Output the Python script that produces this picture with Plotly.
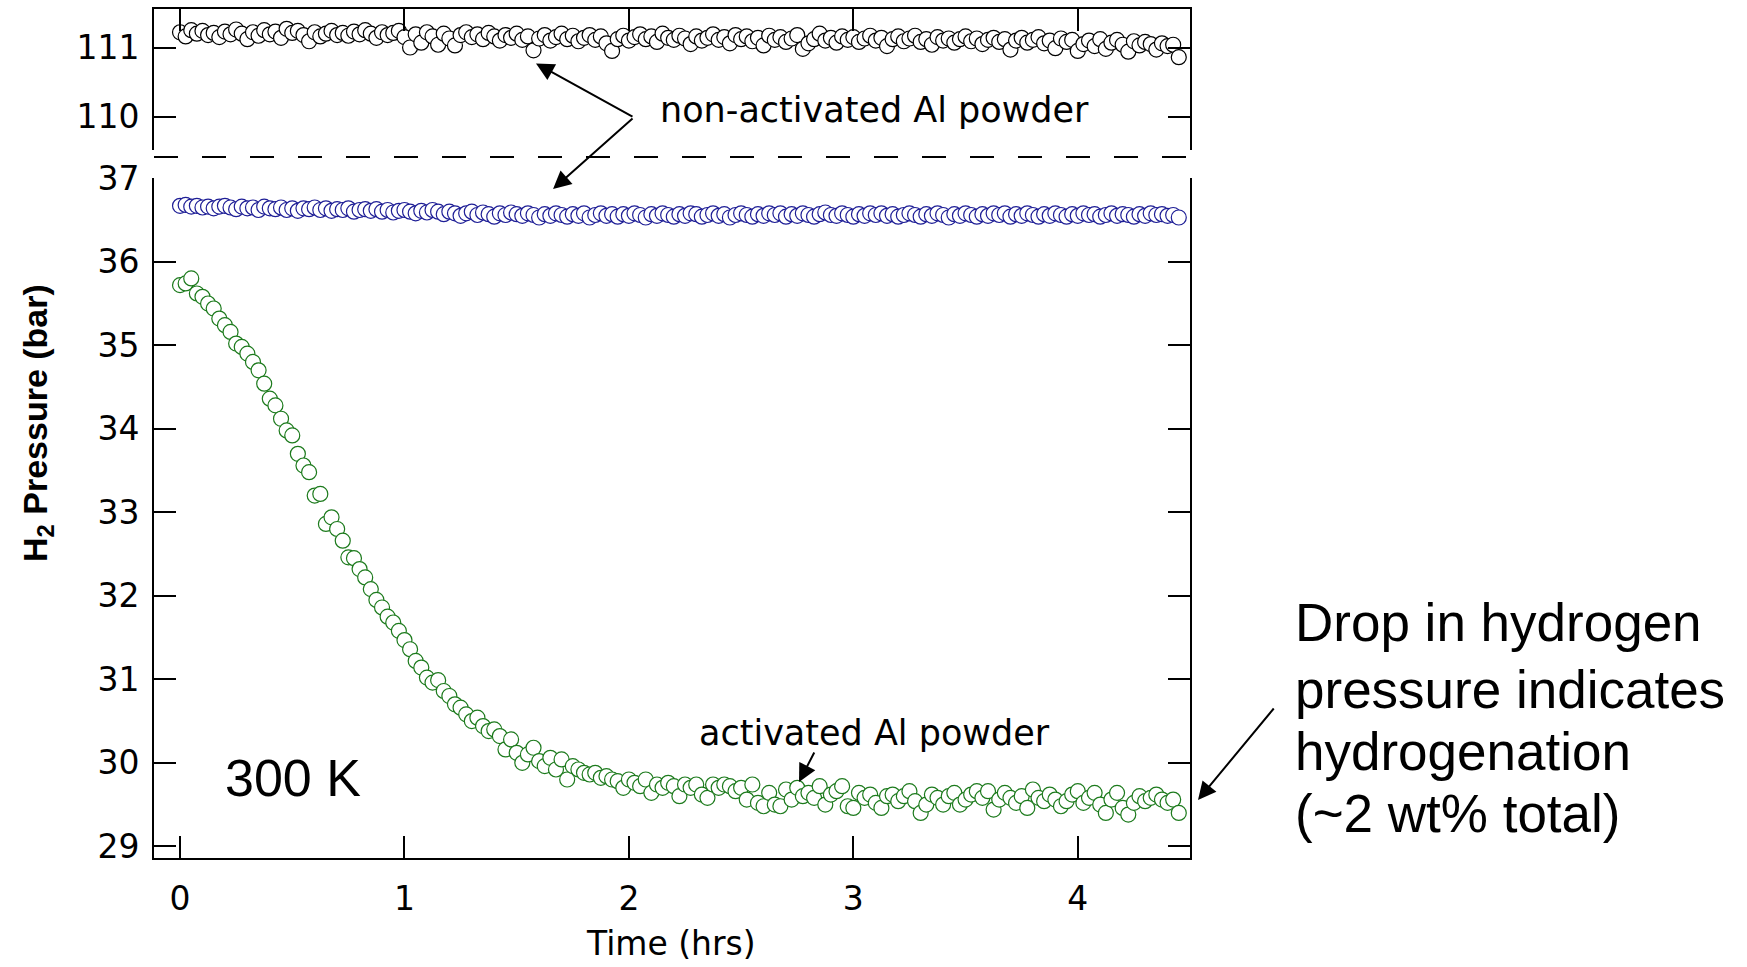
import plotly.graph_objects as go

# ---------------- data ----------------
sample_step_hr = 0.025  # sampling interval of the pressure logger (hours)

activated_green = [
    35.72, 35.74, 35.80, 35.62, 35.58, 35.50, 35.44, 35.32, 35.24, 35.16,
    35.02, 34.98, 34.90, 34.80, 34.70, 34.54, 34.36, 34.28, 34.12, 33.98,
    33.92, 33.70, 33.56, 33.48, 33.20, 33.22, 32.86, 32.94, 32.80, 32.66,
    32.46, 32.45, 32.32, 32.22, 32.08, 31.95, 31.86, 31.75, 31.68, 31.58,
    31.47, 31.36, 31.22, 31.14, 31.02, 30.96, 30.99, 30.86, 30.80, 30.70,
    30.66, 30.58, 30.50, 30.54, 30.44, 30.38, 30.40, 30.32, 30.16, 30.28,
    30.12, 30.00, 30.10, 30.18, 30.02, 29.96, 30.06, 29.92, 30.04, 29.80,
    29.96, 29.92, 29.88, 29.86, 29.88, 29.82, 29.84, 29.80, 29.78, 29.70,
    29.80, 29.76, 29.72, 29.80, 29.64, 29.74, 29.70, 29.76, 29.72, 29.60,
    29.74, 29.70, 29.74, 29.62, 29.58, 29.74, 29.70, 29.74, 29.72, 29.66,
    29.70, 29.56, 29.74, 29.52, 29.48, 29.64, 29.50, 29.48, 29.68, 29.56,
    29.70, 29.60, 29.64, 29.58, 29.72, 29.50, 29.62, 29.66, 29.72, 29.48,
    29.46, 29.64, 29.58, 29.62, 29.52, 29.46, 29.60, 29.62, 29.54, 29.60,
    29.66, 29.54, 29.40, 29.50, 29.62, 29.58, 29.50, 29.60, 29.64, 29.50,
    29.56, 29.62, 29.66, 29.58, 29.66, 29.44, 29.56, 29.64, 29.58, 29.52,
    29.60, 29.46, 29.68, 29.58, 29.54, 29.62, 29.56, 29.48, 29.54, 29.62,
    29.66, 29.52, 29.58, 29.64, 29.50, 29.40, 29.56, 29.64, 29.46, 29.38,
    29.52, 29.60, 29.54, 29.58, 29.62, 29.56, 29.52, 29.56, 29.40,
]

nonactivated_blue = [
    36.67, 36.68, 36.66, 36.67, 36.65, 36.66, 36.64, 36.66, 36.67, 36.65,
    36.63, 36.66, 36.64, 36.65, 36.62, 36.66, 36.64, 36.63, 36.65, 36.62,
    36.64, 36.61, 36.64, 36.63, 36.65, 36.62, 36.64, 36.61, 36.63, 36.62,
    36.64, 36.60, 36.62, 36.63, 36.61, 36.63, 36.60, 36.62, 36.59, 36.61,
    36.62, 36.60, 36.58, 36.61, 36.59, 36.62, 36.60, 36.57, 36.60, 36.58,
    36.55, 36.58, 36.60, 36.56, 36.59, 36.57, 36.54, 36.58, 36.56, 36.59,
    36.57, 36.55, 36.58, 36.56, 36.53, 36.57, 36.55, 36.58, 36.56, 36.54,
    36.57, 36.55, 36.58, 36.53, 36.56, 36.58, 36.55, 36.57, 36.54, 36.57,
    36.55, 36.58, 36.56, 36.53, 36.57, 36.55, 36.58, 36.56, 36.54, 36.57,
    36.55, 36.58, 36.57, 36.54, 36.56, 36.58, 36.55, 36.57, 36.53, 36.56,
    36.58, 36.56, 36.54, 36.57, 36.55, 36.58, 36.56, 36.58, 36.54, 36.57,
    36.55, 36.58, 36.56, 36.54, 36.57, 36.59, 36.56, 36.55, 36.58, 36.56,
    36.54, 36.57, 36.55, 36.58, 36.56, 36.58, 36.55, 36.57, 36.54, 36.56,
    36.58, 36.56, 36.54, 36.57, 36.55, 36.58, 36.56, 36.53, 36.57, 36.55,
    36.58, 36.56, 36.54, 36.57, 36.55, 36.58, 36.56, 36.58, 36.54, 36.57,
    36.55, 36.58, 36.56, 36.54, 36.57, 36.55, 36.58, 36.56, 36.54, 36.57,
    36.55, 36.58, 36.56, 36.57, 36.54, 36.56, 36.58, 36.55, 36.57, 36.56,
    36.54, 36.57, 36.55, 36.58, 36.56, 36.57, 36.55, 36.56, 36.53,
]

nonactivated_black = [
    111.22, 111.16, 111.25, 111.20, 111.24, 111.18, 111.21, 111.15, 111.23, 111.19,
    111.26, 111.20, 111.12, 111.22, 111.17, 111.25, 111.19, 111.23, 111.14, 111.27,
    111.21, 111.24, 111.18, 111.09, 111.22, 111.16, 111.20, 111.24, 111.18, 111.21,
    111.17, 111.23, 111.19, 111.25, 111.20, 111.14, 111.22, 111.18, 111.21, 111.24,
    111.15, 111.00, 111.19, 111.07, 111.22, 111.16, 111.04, 111.20, 111.13, 111.03,
    111.18, 111.22, 111.15, 111.19, 111.12, 111.21, 111.16, 111.10, 111.18, 111.14,
    111.20, 111.11, 111.16, 110.96, 111.13, 111.18, 111.10, 111.15, 111.20, 111.12,
    111.17, 111.09, 111.14, 111.18, 111.11, 111.16, 111.06, 110.95, 111.12, 111.17,
    111.10, 111.15, 111.19, 111.12, 111.16, 111.08, 111.20, 111.14, 111.11, 111.17,
    111.13, 111.05, 111.16, 111.10, 111.14, 111.19, 111.11, 111.15, 111.06, 111.18,
    111.12, 111.16, 111.09, 111.14, 111.03, 111.17, 111.11, 111.15, 111.08, 111.13,
    111.18, 110.98, 111.06, 111.12, 111.20, 111.10, 111.14, 111.07, 111.16, 111.11,
    111.15, 111.08, 111.13, 111.17, 111.10, 111.14, 111.02, 111.12, 111.16, 111.09,
    111.13, 111.17, 111.08, 111.12, 111.04, 111.15, 111.10, 111.13, 111.07, 111.12,
    111.16, 111.09, 111.13, 111.05, 111.11, 111.14, 111.08, 111.12, 110.97, 111.10,
    111.14, 111.07, 111.11, 111.15, 111.06, 111.10, 110.99, 111.13, 111.08, 111.11,
    110.95, 111.05, 111.10, 111.02, 111.12, 110.98, 111.07, 111.11, 111.04, 110.94,
    111.09, 111.03, 111.08, 111.05, 110.97, 111.06, 111.02, 111.04, 110.86,
]

time_hr = [round(i * sample_step_hr, 3) for i in range(len(activated_green))]

x_ticks = [0, 1, 2, 3, 4]
lower_y_ticks = [29, 30, 31, 32, 33, 34, 35, 36, 37]
upper_y_ticks = [110, 111]

# ---------------- styling ----------------
W, H = 1747, 967
L, R, T, B = 154, 557, 9, 109
plot_w = W - L - R
plot_h = H - T - B

def py(ypix):
    return (H - B - ypix) / plot_h

def px(xpix):
    return (xpix - L) / plot_w

GREEN = "#1c7a1c"
BLUE = "#1e1e96"
BLACK = "#000000"
CHART_FONT = "DejaVu Sans"
SLIDE_FONT = "Liberation Sans, Arial, sans-serif"

def marker(color):
    return dict(symbol="circle", size=15, color="white",
                line=dict(color=color, width=1.2))

fig = go.Figure()
fig.add_trace(go.Scatter(x=time_hr, y=nonactivated_black, mode="markers",
                         marker=marker(BLACK), xaxis="x2", yaxis="y2",
                         showlegend=False, cliponaxis=False))
fig.add_trace(go.Scatter(x=time_hr, y=nonactivated_blue, mode="markers",
                         marker=marker(BLUE), xaxis="x", yaxis="y",
                         showlegend=False, cliponaxis=False))
fig.add_trace(go.Scatter(x=time_hr, y=activated_green, mode="markers",
                         marker=marker(GREEN), xaxis="x", yaxis="y",
                         showlegend=False, cliponaxis=False))

axis_common = dict(showline=True, linecolor=BLACK, linewidth=2,
                   ticks="inside", ticklen=22, tickwidth=2, tickcolor=BLACK,
                   showgrid=False, zeroline=False, automargin=False,
                   tickfont=dict(family=CHART_FONT, size=33, color=BLACK))

x_range = [-0.116, 4.50]
fig.update_layout(
    width=W, height=H,
    margin=dict(l=L, r=R, t=T, b=B, autoexpand=False),
    paper_bgcolor="white", plot_bgcolor="white",
    xaxis=dict(domain=[0, 1], anchor="y", range=x_range, tickvals=x_ticks,
               mirror=False, ticklabelstandoff=10, **axis_common),
    xaxis2=dict(domain=[0, 1], anchor="y2", range=x_range, tickvals=x_ticks,
                side="top", mirror=False, showticklabels=False, matches="x",
                **axis_common),
    yaxis=dict(domain=[0, py(178)], anchor="x", range=[28.86, 37.003],
               tickvals=lower_y_ticks, mirror="ticks", ticklabelstandoff=6,
               **axis_common),
    yaxis2=dict(domain=[py(150), 1], anchor="x2", range=[109.52, 111.556],
                tickvals=upper_y_ticks, mirror="ticks", ticklabelstandoff=6,
                **axis_common),
)

# axis break dashed line
fig.add_shape(type="line", xref="paper", yref="paper", x0=0, x1=1,
              y0=py(157), y1=py(157),
              line=dict(color=BLACK, width=2, dash="24px,24px"))

ann = []
# axis titles
ann.append(dict(text="<b>H<sub>2</sub> Pressure (bar)</b>", xref="paper", yref="paper",
                x=px(37), y=py(423), textangle=-90, showarrow=False,
                xanchor="center", yanchor="middle",
                font=dict(family="Liberation Sans", size=34, color=BLACK)))
ann.append(dict(text="Time (hrs)", xref="paper", yref="paper",
                x=px(671), y=py(943), showarrow=False,
                xanchor="center", yanchor="middle",
                font=dict(family=CHART_FONT, size=33, color=BLACK)))
# in-plot labels
ann.append(dict(text="non-activated Al powder", xref="paper", yref="paper",
                x=px(658), y=py(110), showarrow=False,
                xanchor="left", yanchor="middle",
                font=dict(family=CHART_FONT, size=35, color=BLACK)))
ann.append(dict(text="activated Al powder", xref="paper", yref="paper",
                x=px(697), y=py(733), showarrow=False,
                xanchor="left", yanchor="middle",
                font=dict(family=CHART_FONT, size=35, color=BLACK)))
ann.append(dict(text="300 K", xref="paper", yref="paper",
                x=px(293), y=py(778), showarrow=False,
                xanchor="center", yanchor="middle",
                font=dict(family=SLIDE_FONT, size=52, color=BLACK)))
# side note
side_lines = ["Drop in hydrogen", "pressure indicates", "hydrogenation",
              "(~2 wt% total)"]
side_y = [622, 689, 751, 813]
for txt, yy in zip(side_lines, side_y):
    ann.append(dict(text=txt, xref="paper", yref="paper",
                    x=px(1293), y=py(yy), showarrow=False,
                    xanchor="left", yanchor="middle",
                    font=dict(family=SLIDE_FONT, size=53, color=BLACK)))

arrow_style = dict(showarrow=True, arrowhead=2, arrowsize=1.8, arrowwidth=2,
                   arrowcolor=BLACK, text="", axref="pixel", ayref="pixel",
                   standoff=0)
# arrows from the "non-activated" label to both non-activated data sets
ann.append(dict(xref="x2", yref="y2", x=1.586, y=110.77, ax=98, ay=54,
                **arrow_style))
ann.append(dict(xref="x", yref="y", x=1.662, y=36.87, ax=81, ay=-72,
                **arrow_style))
# arrow from "activated" label
ann.append(dict(xref="x", yref="y", x=2.758, y=29.77, ax=16, ay=-31,
                **arrow_style))
# arrow from side note to end of curve
ann.append(dict(xref="paper", yref="paper", x=px(1198), y=py(800),
                ax=77, ay=-93, **arrow_style))

fig.update_layout(annotations=ann)

fig.write_html("out.html")
